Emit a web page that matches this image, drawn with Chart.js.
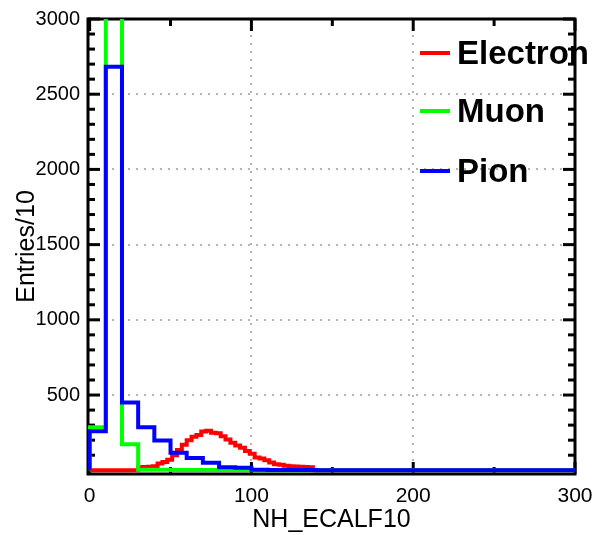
<!DOCTYPE html>
<html>
<head>
<meta charset="utf-8">
<title>NH_ECALF10</title>
<script src="https://cdn.jsdelivr.net/npm/chart.js@4.4.0/dist/chart.umd.min.js"></script>
<style>
  html, body { margin: 0; padding: 0; background: #fff; }
  #wrap { width: 598px; height: 535px; }
</style>
</head>
<body>
<div id="wrap"><canvas id="histo_chart" width="598" height="535"></canvas></div>
<script>
// bin widths, in NH_ECALF10 units
const wide_bin = 10;
const narrow_bin = 3;

// entries per bin, first bin starts at 0
const pion_counts = [259, 2683, 450, 285, 198, 116, 81, 50, 20, 17, 3, 2, 1, 1];
const muon_counts = [285, 4100, 172, 4, 3, 2, 2, 1, 1, 1];
const electron_counts = [0, 0, 0, 0, 0, 0, 0, 0, 0, 0,
	20, 22, 24, 26, 45, 55, 70, 100, 135, 170,
	200, 222, 235, 258, 262, 250, 246, 226, 204, 182,
	165, 150, 128, 110, 84, 78, 66, 52, 40, 36,
	30, 26, 25, 24, 22, 20];

const series_names = ["Electron", "Muon", "Pion"];
const series_colors = ["#ff0000", "#00ff00", "#0000ff"];

const x_ticks = [0, 100, 200, 300];
const x_minor = [50, 150, 250];
const y_ticks = [500, 1000, 1500, 2000, 2500, 3000];
const y_minor = [100, 200, 300, 400, 600, 700, 800, 900, 1100, 1200, 1300, 1400,
	1600, 1700, 1800, 1900, 2100, 2200, 2300, 2400, 2600, 2700, 2800, 2900];

const font_family = "'Liberation Sans', Arial, Helvetica, sans-serif";

function histPoints(counts, width){
	var pts = [{x: 0, y: 0}];
	counts.forEach((c, i) => pts.push({x: i * width, y: c}));
	pts.push({x: counts.length * width, y: 0});
	pts.push({x: 300, y: 0});
	return pts;
}

function gridColor(ctx, edges){
	if(ctx.tick && edges.includes(ctx.tick.value)) return "rgba(0,0,0,0)";
	return "#b4b4b4";
}

// black frame with inward ticks on all four sides
const framePlugin = {
	id: "frame",
	beforeDatasetsDraw(chart){
		const c = chart.ctx, a = chart.chartArea;
		const xs = chart.scales.x, ys = chart.scales.y;
		c.save();
		c.strokeStyle = "#000";
		c.lineWidth = 3;
		c.strokeRect(a.left, a.top, a.right - a.left, a.bottom - a.top);
		function tick(x1, y1, x2, y2){
			c.beginPath(); c.moveTo(x1, y1); c.lineTo(x2, y2); c.stroke();
		}
		x_ticks.concat(x_minor).forEach(v => {
			const len = x_minor.includes(v) ? 7 : 12;
			const px = xs.getPixelForValue(v);
			tick(px, a.bottom, px, a.bottom - len);
			tick(px, a.top, px, a.top + len);
		});
		y_ticks.concat(y_minor).forEach(v => {
			const len = y_minor.includes(v) ? 7 : 12;
			const py = ys.getPixelForValue(v);
			tick(a.left, py, a.left + len, py);
			tick(a.right, py, a.right - len, py);
		});
		c.restore();
	}
};

const legendPlugin = {
	id: "histLegend",
	afterDraw(chart){
		const c = chart.ctx;
		const rows = [53, 111, 171];
		c.save();
		c.font = "bold 33px " + font_family;
		c.textBaseline = "middle";
		c.textAlign = "left";
		series_names.forEach((name, i) => {
			c.strokeStyle = series_colors[i];
			c.lineWidth = 4;
			c.beginPath();
			c.moveTo(420, rows[i]);
			c.lineTo(450, rows[i]);
			c.stroke();
			c.fillStyle = "#000";
			c.fillText(name, 457, rows[i] + 2);
		});
		c.restore();
	}
};

const ctx = document.getElementById("histo_chart").getContext("2d");

let myChart = new Chart(ctx, {
	type: "line",
	data: {
		datasets: [
			{
				label: "Pion",
				data: histPoints(pion_counts, wide_bin),
				borderColor: series_colors[2],
				borderWidth: 4,
				stepped: "before",
				pointRadius: 0,
				fill: false,
			},
			{
				label: "Muon",
				data: histPoints(muon_counts, wide_bin),
				borderColor: series_colors[1],
				borderWidth: 4,
				stepped: "before",
				pointRadius: 0,
				fill: false,
			},
			{
				label: "Electron",
				data: histPoints(electron_counts, narrow_bin),
				borderColor: series_colors[0],
				borderWidth: 4,
				stepped: "before",
				pointRadius: 0,
				fill: false,
			}
		]
	},
	options: {
		responsive: false,
		animation: false,
		devicePixelRatio: 1,
		layout: { padding: { left: 0, top: 19, right: 23, bottom: 0 } },
		plugins: {
			legend: { display: false },
			tooltip: { enabled: false },
		},
		scales: {
			x: {
				type: "linear",
				min: -1,
				max: 300,
				afterBuildTicks: s => { s.ticks = x_ticks.map(v => ({value: v})); },
				afterFit: s => { s.height = 61; s.paddingLeft = 0; s.paddingRight = 0; },
				ticks: {
					color: "#000",
					font: { family: font_family, size: 21 },
					padding: 10,
					maxRotation: 0,
					autoSkip: false,
					callback: v => String(v),
				},
				grid: { color: c => gridColor(c, [0, 300]), lineWidth: 2, drawTicks: false },
				border: { display: false, dash: [2, 6] },
				title: {
					display: true,
					text: "NH_ECALF10",
					color: "#000",
					font: { family: font_family, size: 25 },
					padding: { top: 0, bottom: 0 },
				},
			},
			y: {
				type: "linear",
				min: -25,
				max: 3000,
				afterBuildTicks: s => { s.ticks = y_ticks.map(v => ({value: v})); },
				afterFit: s => { s.width = 88; s.paddingTop = 0; s.paddingBottom = 0; },
				ticks: {
					color: "#000",
					font: { family: font_family, size: 20 },
					padding: 8,
					autoSkip: false,
					callback: v => String(v),
				},
				grid: { color: c => gridColor(c, [3000]), lineWidth: 2, drawTicks: false },
				border: { display: false, dash: [2, 6] },
				title: {
					display: true,
					text: "Entries/10",
					color: "#000",
					font: { family: font_family, size: 25 },
					padding: { top: 12, bottom: 0 },
				},
			},
		},
	},
	plugins: [framePlugin, legendPlugin],
});
</script>
</body>
</html>
